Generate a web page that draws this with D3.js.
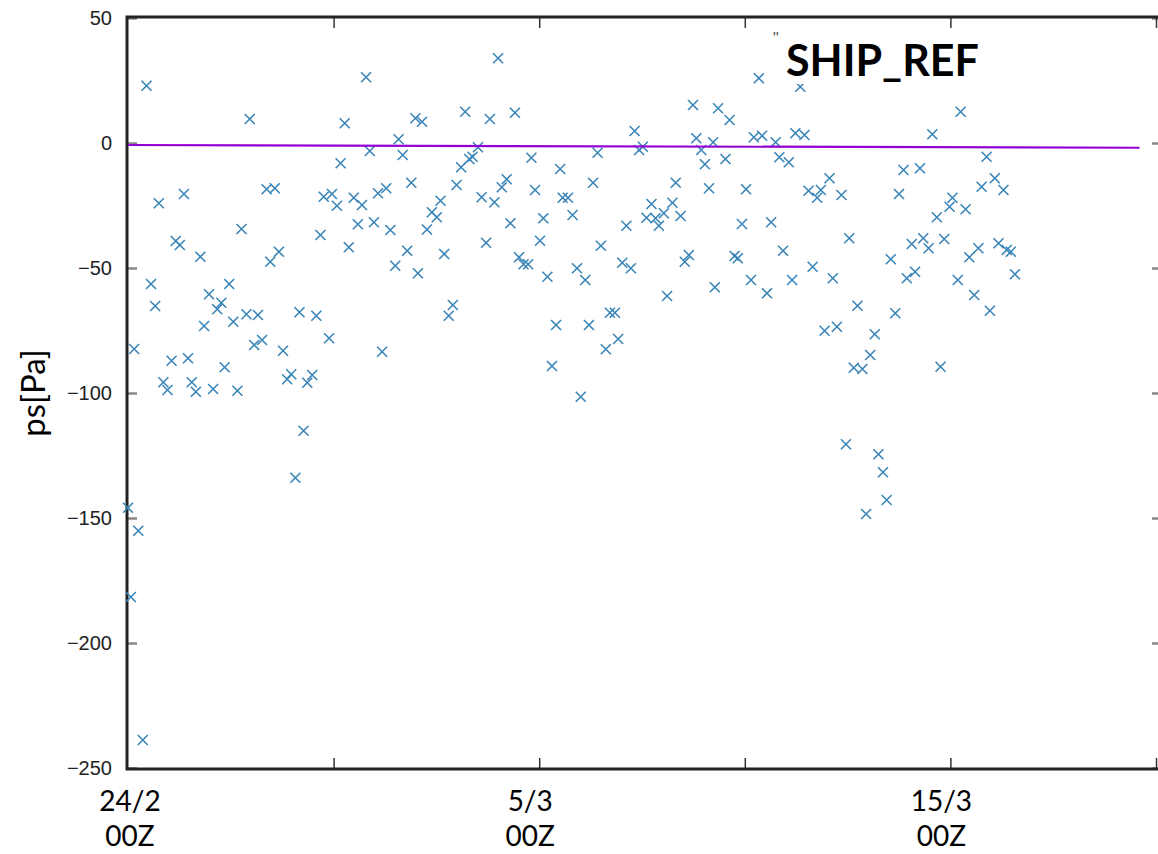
<!DOCTYPE html>
<html>
<head>
<meta charset="utf-8">
<script src="https://cdn.jsdelivr.net/npm/d3@7"></script>
<style>
  body { margin: 0; background: #fff; }
  svg { display: block; }
</style>
</head>
<body>
<svg id="chart"></svg>
<script>
// time axis in days after 24/2 00Z, values are ps O-B [Pa]
var tDays = [
  0.00, 0.07, 0.15, 0.25, 0.36, 0.45, 0.56, 0.66, 0.75, 0.86, 0.96, 1.06, 1.16, 1.26, 1.36, 1.46,
  1.55, 1.65, 1.76, 1.85, 1.97, 2.07, 2.17, 2.27, 2.35, 2.46, 2.56, 2.66, 2.76, 2.88, 2.96, 3.07,
  3.16, 3.26, 3.37, 3.46, 3.57, 3.67, 3.77, 3.87, 3.97, 4.07, 4.17, 4.27, 4.36, 4.48, 4.58, 4.68,
  4.76, 4.89, 4.96, 5.08, 5.17, 5.27, 5.37, 5.49, 5.59, 5.69, 5.79, 5.88, 5.98, 6.08, 6.18, 6.28,
  6.38, 6.50, 6.58, 6.68, 6.79, 6.89, 6.99, 7.05, 7.15, 7.27, 7.39, 7.51, 7.60, 7.69, 7.80, 7.90,
  7.99, 8.10, 8.20, 8.30, 8.38, 8.51, 8.60, 8.71, 8.80, 8.91, 9.00, 9.09, 9.21, 9.30, 9.41, 9.51,
  9.62, 9.73, 9.81, 9.90, 10.02, 10.10, 10.20, 10.31, 10.41, 10.51, 10.57, 10.70, 10.81, 10.92, 11.01, 11.12,
  11.21, 11.31, 11.42, 11.50, 11.62, 11.72, 11.84, 11.92, 12.02, 12.12, 12.23, 12.32, 12.43, 12.52, 12.61, 12.73,
  12.83, 12.91, 13.03, 13.11, 13.24, 13.32, 13.44, 13.54, 13.64, 13.74, 13.82, 13.94, 14.03, 14.13, 14.23, 14.27,
  14.35, 14.53, 14.63, 14.75, 14.83, 14.93, 15.03, 15.15, 15.22, 15.34, 15.42, 15.54, 15.64, 15.75, 15.84, 15.93,
  16.07, 16.15, 16.23, 16.35, 16.45, 16.55, 16.65, 16.76, 16.85, 16.94, 17.06, 17.14, 17.24, 17.35, 17.46, 17.54,
  17.65, 17.74, 17.86, 17.95, 18.05, 18.16, 18.25, 18.36, 18.45, 18.55, 18.66, 18.75, 18.86, 18.94, 19.06, 19.14,
  19.26, 19.34, 19.47, 19.56, 19.67, 19.76, 19.85, 19.98, 20.05, 20.18, 20.25, 20.37, 20.46, 20.58, 20.68, 20.76,
  20.88, 20.96, 21.08, 21.17, 21.29, 21.37, 21.47, 21.57
];
var psBias = [
  -145.9, -181.6, -82.4, -155.1, -238.8, 22.9, -56.4, -65.2, -24.1, -95.7, -98.8, -87.1, -39.2, -40.8, -20.4, -86.1,
  -95.7, -99.5, -45.5, -73.2, -60.5, -98.4, -66.5, -63.9, -89.7, -56.4, -71.5, -99.1, -34.4, -68.5, 9.6, -80.8,
  -68.8, -78.8, -18.5, -47.5, -18.1, -43.5, -83.1, -94.5, -92.5, -133.9, -67.7, -115.1, -95.9, -92.8, -69.1, -36.8,
  -21.5, -78.1, -20.4, -25.1, -8.1, 7.9, -41.7, -21.9, -32.5, -24.8, 26.3, -3.2, -31.7, -20.1, -83.5, -18.1,
  -34.8, -49.1, 1.5, -4.8, -43.1, -15.9, 9.9, -52.1, 8.5, -34.6, -27.7, -29.7, -23.1, -44.4, -69.1, -64.8,
  -16.8, -9.7, 12.5, -6.4, -5.5, -1.7, -21.7, -39.9, 9.6, -23.7, 33.9, -17.7, -14.5, -32.1, 12.1, -45.7,
  -48.5, -48.5, -5.9, -18.8, -39.1, -30.1, -53.5, -89.2, -72.8, -10.4, -21.9, -21.9, -28.8, -50.1, -101.5, -54.8,
  -72.8, -15.9, -3.9, -41.1, -82.5, -67.9, -67.9, -78.4, -47.9, -33.1, -50.1, 4.8, -2.8, -1.5, -29.9, -24.4,
  -30.1, -33.1, -28.1, -61.2, -23.9, -15.9, -29.2, -47.5, -44.8, 15.2, 1.9, -2.8, -8.5, -18.1, 0.3, -57.7,
  13.9, -6.4, 9.2, -45.2, -46.1, -32.4, -18.5, -54.8, 2.3, 25.9, 2.9, -60.1, -31.7, 0.3, -5.7, -43.1,
  -7.7, -54.8, 3.9, 22.5, 3.2, -19.1, -49.5, -21.9, -18.8, -75.1, -14.1, -54.1, -73.5, -20.8, -120.5, -38.1,
  -89.9, -65.1, -90.4, -148.4, -84.8, -76.5, -124.5, -131.7, -142.8, -46.5, -68.1, -20.4, -10.8, -54.1, -40.4, -51.5,
  -10.1, -38.1, -42.1, 3.5, -29.7, -89.5, -38.4, -25.5, -21.9, -54.8, 12.5, -26.5, -45.7, -60.8, -42.1, -17.5,
  -5.5, -67.1, -14.1, -40.1, -18.8, -42.8, -43.5, -52.5
];
// mean line (start / end)
var meanT = [0, 24.6];
var meanPs = [-0.8, -1.9];

var yTicks = [50, 0, -50, -100, -150, -200, -250];
var xTickDays = [5, 10, 15, 20, 25];
var xLabelDays = [0, 10, 20];
var xLabels = [["24/2", "00Z"], ["5/3", "00Z"], ["15/3", "00Z"]];
var title = "SHIP_REF";
var yTitle = "ps[Pa]";

var W = 1158, H = 854;
var plotL = 128, plotR = 1160, plotT = 18, plotB = 768;

var svg = d3.select("#chart").attr("width", W).attr("height", H);

var x = d3.scaleLinear().domain([0, 25]).range([plotL, 1156]);
var y = d3.scaleLinear().domain([-250, 50]).range([plotB, plotT]);

// y axis, ticks pointing inward
var yAxis = d3.axisLeft(y).tickValues(yTicks).tickSizeInner(-9).tickSizeOuter(0).tickPadding(16)
  .tickFormat(function(d){ return d < 0 ? "\u2212" + Math.abs(d) : d; });
var gy = svg.append("g").attr("transform", "translate(" + plotL + ",0)").call(yAxis);
gy.select(".domain").remove();
gy.selectAll(".tick line").attr("stroke", "#888").attr("stroke-width", 2.5);
gy.selectAll(".tick text").attr("font-family", "'Liberation Sans', Arial, sans-serif")
  .attr("font-size", 20).attr("fill", "#222");

var gyr = svg.append("g").attr("transform", "translate(" + plotR + ",0)")
  .call(d3.axisRight(y).tickValues(yTicks).tickSizeInner(-8).tickSizeOuter(0).tickFormat(""));
gyr.select(".domain").remove();
gyr.selectAll(".tick line").attr("stroke", "#888").attr("stroke-width", 2.5);

var gxb = svg.append("g").attr("transform", "translate(0," + plotB + ")")
  .call(d3.axisBottom(x).tickValues(xTickDays).tickSizeInner(-10).tickSizeOuter(0).tickFormat(""));
gxb.select(".domain").remove();
gxb.selectAll(".tick line").attr("stroke", "#333").attr("stroke-width", 1.5);

var gxt = svg.append("g").attr("transform", "translate(0," + plotT + ")")
  .call(d3.axisTop(x).tickValues(xTickDays).tickSizeInner(-10).tickSizeOuter(0).tickFormat(""));
gxt.select(".domain").remove();
gxt.selectAll(".tick line").attr("stroke", "#333").attr("stroke-width", 1.5);

// frame
svg.append("rect")
  .attr("x", plotL - 1).attr("y", plotT - 1)
  .attr("width", plotR - plotL + 1).attr("height", plotB - plotT + 2)
  .attr("fill", "none").attr("stroke", "#222").attr("stroke-width", 3);

// points
var pts = tDays.map(function(t, i){ return {t: t, v: psBias[i]}; });
svg.append("g").selectAll("path")
  .data(pts)
  .enter()
  .append("path")
    .attr("transform", function(d){ return "translate(" + x(d.t) + "," + y(d.v) + ")"; })
    .attr("d", "M-5,-5L5,5M5,-5L-5,5")
    .attr("stroke", "#3a85b8")
    .attr("stroke-width", 1.6)
    .attr("fill", "none");

// mean line
var line = d3.line().x(function(d){ return x(d[0]); }).y(function(d){ return y(d[1]); });
svg.append("path")
  .datum(meanT.map(function(t, i){ return [t, meanPs[i]]; }))
  .attr("d", line)
  .attr("stroke", "#9400d3")
  .attr("stroke-width", 2.2)
  .attr("fill", "none");

// key box with title
svg.append("rect").attr("x", 780).attr("y", 32).attr("width", 320).attr("height", 52).attr("fill", "#fff");
svg.append("text").attr("x", 773).attr("y", 44).text("\"")
  .attr("font-family", "'Liberation Sans', Arial, sans-serif").attr("font-size", 16).attr("fill", "#555");
svg.append("text").attr("x", 786).attr("y", 76).text(title)
  .attr("font-family", "Lato, 'Open Sans', sans-serif").attr("font-weight", "bold")
  .attr("font-size", 43).attr("fill", "#000");

// x labels
var xl = svg.append("g").selectAll("text")
  .data(xLabelDays)
  .enter()
  .append("text")
    .attr("x", function(d){ return x(d) + (d === 0 ? 2 : -9); })
    .attr("y", 811)
    .attr("text-anchor", "middle")
    .attr("font-family", "Lato, 'Open Sans', sans-serif")
    .attr("font-size", 28)
    .attr("fill", "#000");
xl.append("tspan").text(function(d, i){ return xLabels[i][0]; });
xl.append("tspan").attr("x", function(d){ return x(d) + (d === 0 ? 2 : -9); }).attr("dy", 35)
  .text(function(d, i){ return xLabels[i][1]; });

// y title
svg.append("text")
  .attr("transform", "translate(45,393) rotate(-90)")
  .attr("text-anchor", "middle")
  .attr("font-family", "Lato, 'Open Sans', sans-serif")
  .attr("font-size", 33)
  .attr("fill", "#000")
  .text(yTitle);
</script>
</body>
</html>
